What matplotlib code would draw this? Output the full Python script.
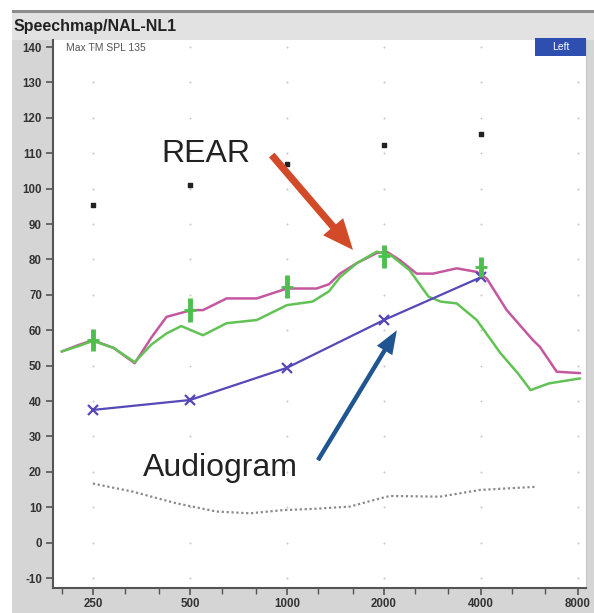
import matplotlib
matplotlib.use("Agg")
import matplotlib.pyplot as plt
from matplotlib.patches import Rectangle
from matplotlib.ticker import FixedLocator, NullFormatter
import numpy as np

plt.rcParams['font.family'] = ['Liberation Sans', 'DejaVu Sans']

# ---------------- data ----------------
x_ticks = [250, 500, 1000, 2000, 4000, 8000]
x_tick_labels = ["250", "500", "1000", "2000", "4000", "8000"]
x_minor = [200, 315, 400, 630, 800, 1250, 1600, 2500, 3150, 5000, 6300]
y_ticks = list(range(-10, 141, 10))

# aided response (magenta)
pink_f = [200, 225, 250, 290, 337, 380, 423, 506, 549, 650, 806, 1000, 1236,
          1350, 1461, 1650, 1898, 2040, 2242, 2527, 2838, 3362, 3880, 4170,
          4807, 5800, 6096, 6870, 8120]
pink_db = [54, 55.8, 57.2, 55, 50.7, 58, 63.8, 65.7, 65.7, 69, 69, 71.8, 71.8,
           73, 76, 79, 81.8, 82.2, 79.8, 76, 76, 77.5, 76.5, 74.6,
           65.7, 57.2, 55.3, 48.3, 47.9]

# aided response (green)
green_f = [200, 225, 250, 290, 337, 380, 423, 470, 549, 650, 806, 1000, 1200,
           1350, 1461, 1650, 1898, 2100, 2400, 2750, 3000, 3362, 3880, 4600,
           5200, 5700, 6500, 8120]
green_db = [54, 55.5, 57, 55, 51, 56, 59.1, 61.2, 58.6, 62, 62.9, 67.1, 68.1,
            71, 75, 79, 82.2, 81.2, 77, 69.5, 68.1, 67.6, 62.9, 53.5,
            47.9, 43.1, 45, 46.4]

# targets (green bars)
target_f = [250, 500, 1000, 2000, 4000]
target_lo = [54.2, 62.4, 69.1, 77.6, 75.1]
target_hi = [60.3, 69.1, 75.6, 84.0, 80.8]
target_mid = [57.2, 65.7, 72.3, 81.0, 78.0]

# audiogram
aud_f = [250, 500, 1000, 2000, 4000]
aud_db = [37.5, 40.3, 49.4, 62.9, 75.0]

# UCL markers
ucl_f = [250, 500, 1000, 2000, 4000]
ucl_db = [95.4, 101, 107.1, 112.3, 115.4]

# dotted threshold line
dot_f = [250, 333, 455, 605, 768, 972, 1236, 1568, 1943, 2088, 2984, 3970, 5955]
dot_db = [16.7, 14.4, 11.1, 8.8, 8.3, 9.2, 9.6, 10.2, 12.5, 13.2, 13.0, 14.9, 15.8]

# ---------------- figure ----------------
W, H = 594, 613
fig = plt.figure(figsize=(W / 100, H / 100), dpi=100)
fig.patch.set_facecolor("white")

def fx(px):
    return px / W

def fy(py):
    return 1 - py / H

# gray panel
fig.patches.append(Rectangle((fx(12), 0), 1 - fx(12), fy(10), transform=fig.transFigure,
                             facecolor="#d5d5d5", edgecolor="none", zorder=-3))
# title bar
fig.patches.append(Rectangle((fx(12), fy(40)), 1 - fx(12), fy(13) - fy(40), transform=fig.transFigure,
                             facecolor="#e2e2e2", edgecolor="none", zorder=-2))
fig.patches.append(Rectangle((fx(12), fy(13)), 1 - fx(12), fy(10) - fy(13), transform=fig.transFigure,
                             facecolor="#8c8c8c", edgecolor="none", zorder=-2))
fig.text(fx(14), fy(27), "Speechmap/NAL-NL1", fontsize=11.5, fontweight="bold",
         color="#222222", va="center", ha="left")

ax = fig.add_axes([fx(53), fy(588), fx(586) - fx(53), fy(40) - fy(588)])
ax.set_facecolor("white")
ax.set_xscale("log")
ax.set_xlim(188, 8470)
ax.set_ylim(-12.8, 142)

ax.xaxis.set_major_locator(FixedLocator(x_ticks))
ax.set_xticklabels(x_tick_labels)
ax.xaxis.set_minor_locator(FixedLocator(x_minor))
ax.xaxis.set_minor_formatter(NullFormatter())
ax.set_yticks(y_ticks)
ax.set_yticklabels([str(v) for v in y_ticks])

for lbl in ax.get_xticklabels() + ax.get_yticklabels():
    lbl.set_fontweight("bold")
    lbl.set_fontsize(8.3)
    lbl.set_color("#333333")
ax.tick_params(axis="both", which="major", direction="out", length=5, width=1.2, color="#555555")
ax.tick_params(axis="x", which="minor", direction="out", length=4, width=1.0, color="#555555")
ax.tick_params(axis="x", pad=2)
ax.tick_params(axis="y", pad=3)

ax.spines["top"].set_visible(False)
ax.spines["right"].set_color("#c8c8c8")
ax.spines["left"].set_color("#555555")
ax.spines["left"].set_linewidth(1.5)
ax.spines["bottom"].set_color("#555555")
ax.spines["bottom"].set_linewidth(1.5)

# grid dots at intersections
gx, gy = np.meshgrid(x_ticks, y_ticks)
ax.scatter(gx.ravel(), gy.ravel(), s=3, marker="+", color="#cccccc", linewidths=0.8, zorder=1)

# curves
ax.plot(dot_f, dot_db, linestyle=(0, (1, 1.2)), color="#8a8a8a", lw=1.6, zorder=2)
ax.plot(pink_f, pink_db, color="#c4579f", lw=1.8, zorder=3,
        solid_joinstyle="round", solid_capstyle="round")
ax.plot(green_f, green_db, color="#62c255", lw=1.8, zorder=4,
        solid_joinstyle="round", solid_capstyle="round")
ax.plot(aud_f, aud_db, color="#5548b8", lw=1.6, marker="x", ms=7, mew=1.6, zorder=5)
ax.vlines(target_f, target_lo, target_hi, color="#4cbf4c", lw=3.5, zorder=6)
ax.scatter(target_f, target_mid, marker="_", s=70, color="#4cbf4c", linewidths=2.0, zorder=6)
ax.scatter(ucl_f, ucl_db, marker="s", s=10, color="#222222", zorder=6)

# texts
ax.text(0.025, 0.985, "Max TM SPL 135", transform=ax.transAxes, fontsize=7.5,
        color="#555555", va="center", ha="left")
ax.text(408, 109.8, "REAR", fontsize=23, color="#222222", va="center", ha="left", zorder=7)
ax.text(358, 21.1, "Audiogram", fontsize=23, color="#222222", va="center", ha="left", zorder=7)

# arrows
ax.annotate("", xy=(1603, 82.7), xytext=(897, 109.5),
            arrowprops=dict(arrowstyle="simple,head_length=1.1,head_width=0.95,tail_width=0.26",
                            mutation_scale=20, color="#d24a28", lw=0, shrinkA=0, shrinkB=0), zorder=8)
ax.annotate("", xy=(2193, 60.0), xytext=(1248, 23.3),
            arrowprops=dict(arrowstyle="simple,head_length=0.85,head_width=0.65,tail_width=0.16",
                            mutation_scale=20, color="#1f5590", lw=0, shrinkA=0, shrinkB=0), zorder=8)

# "Left" badge
fig.patches.append(Rectangle((fx(535), fy(56)), fx(586) - fx(535), fy(38) - fy(56),
                             transform=fig.transFigure, facecolor="#2f4fb0", edgecolor="none", zorder=10))
fig.text((fx(535) + fx(586)) / 2, (fy(56) + fy(38)) / 2, "Left", fontsize=7.5, color="white",
         ha="center", va="center", zorder=11)

fig.savefig("out.png", dpi=100)
